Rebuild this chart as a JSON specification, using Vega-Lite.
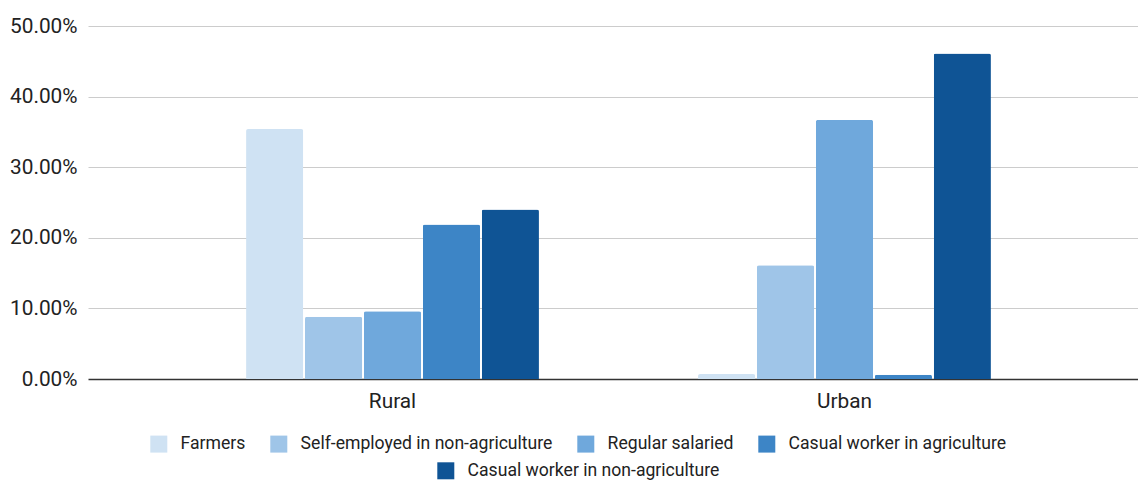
{
  "$schema": "https://vega.github.io/schema/vega-lite/v6.json",
  "width": 1050,
  "height": 353,
  "autosize": {"type": "none"},
  "padding": {"left": 88, "top": 26, "right": 0, "bottom": 101},
  "background": "white",
  "data": {
    "values": [
      {"area": "Rural", "category": "Farmers", "share": 0.354},
      {"area": "Rural", "category": "Self-employed in non-agriculture", "share": 0.088},
      {"area": "Rural", "category": "Regular salaried", "share": 0.096},
      {"area": "Rural", "category": "Casual worker in agriculture", "share": 0.219},
      {"area": "Rural", "category": "Casual worker in non-agriculture", "share": 0.240},
      {"area": "Urban", "category": "Farmers", "share": 0.007},
      {"area": "Urban", "category": "Self-employed in non-agriculture", "share": 0.161},
      {"area": "Urban", "category": "Regular salaried", "share": 0.367},
      {"area": "Urban", "category": "Casual worker in agriculture", "share": 0.006},
      {"area": "Urban", "category": "Casual worker in non-agriculture", "share": 0.461}
    ]
  },
  "encoding": {
    "x": {
      "field": "area",
      "type": "nominal",
      "scale": {"paddingInner": 0.352, "paddingOuter": 0.3376, "align": 0.518},
      "axis": {
        "title": null,
        "labelAngle": 0,
        "ticks": false,
        "domain": false,
        "labelFontSize": 20.8,
        "labelColor": "#222222",
        "labelPadding": 12
      }
    },
    "xOffset": {
      "field": "category",
      "type": "nominal",
      "sort": null,
      "scale": {
        "domain": ["Farmers", "Self-employed in non-agriculture", "Regular salaried", "Casual worker in agriculture", "Casual worker in non-agriculture"],
        "paddingInner": 0.03,
        "paddingOuter": 0
      }
    },
    "y": {
      "field": "share",
      "type": "quantitative",
      "scale": {"domain": [0, 0.5], "nice": false},
      "axis": {
        "title": null,
        "values": [0, 0.1, 0.2, 0.3, 0.4, 0.5],
        "format": ".2%",
        "ticks": false,
        "domain": false,
        "labelFontSize": 20.8,
        "labelColor": "#222222",
        "labelPadding": 11,
        "gridColor": {"condition": {"test": "datum.value === 0", "value": "#333333"}, "value": "#cccccc"},
        "gridWidth": {"condition": {"test": "datum.value === 0", "value": 1.5}, "value": 1}
      }
    }
  },
  "layer": [
    {
      "transform": [{"filter": "datum.category !== 'Casual worker in non-agriculture'"}],
      "mark": {"type": "bar", "cornerRadiusEnd": 2},
      "encoding": {
        "color": {
          "field": "category",
          "type": "nominal",
          "sort": null,
          "scale": {
            "domain": ["Farmers", "Self-employed in non-agriculture", "Regular salaried", "Casual worker in agriculture"],
            "range": ["#cfe2f3", "#9fc5e8", "#6fa8dc", "#3d85c6"]
          },
          "legend": {
            "title": null,
            "orient": "none",
            "direction": "horizontal",
            "legendX": 62,
            "legendY": 409
          }
        }
      }
    },
    {
      "transform": [{"filter": "datum.category === 'Casual worker in non-agriculture'"}],
      "mark": {"type": "bar", "cornerRadiusEnd": 2},
      "encoding": {
        "color": {
          "field": "category",
          "type": "nominal",
          "scale": {
            "domain": ["Casual worker in non-agriculture"],
            "range": ["#0f5495"]
          },
          "legend": {
            "title": null,
            "orient": "none",
            "direction": "horizontal",
            "legendX": 349,
            "legendY": 436
          }
        }
      }
    }
  ],
  "resolve": {"scale": {"color": "independent"}, "legend": {"color": "independent"}},
  "config": {
    "font": "Roboto",
    "view": {"stroke": null},
    "legend": {
      "symbolType": "square",
      "symbolSize": 289,
      "symbolStrokeWidth": 0,
      "symbolOpacity": 1,
      "labelFontSize": 17.6,
      "labelColor": "#222222",
      "labelOffset": 13,
      "labelLimit": 0,
      "columnPadding": 24,
      "padding": 0
    }
  }
}
